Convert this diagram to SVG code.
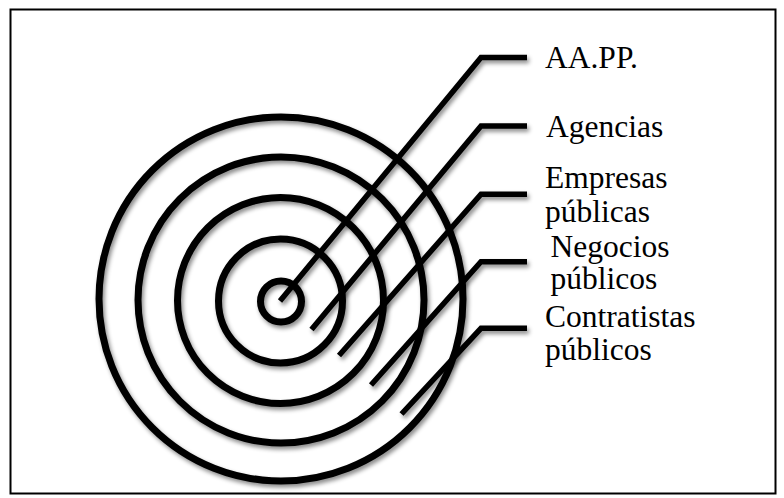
<svg xmlns="http://www.w3.org/2000/svg" width="784" height="498" viewBox="0 0 784 498">
  <defs>
    <filter id="shade" x="-10%" y="-10%" width="120%" height="120%">
      <feDropShadow dx="2" dy="3" stdDeviation="2" flood-color="#000" flood-opacity="0.45"/>
    </filter>
    <style>
      .ring { fill: none; stroke: #000; stroke-width: 7; }
      .lead { fill: none; stroke: #000; stroke-width: 5.5; stroke-linejoin: miter; stroke-linecap: butt; }
      .lbl { font-family: "Liberation Serif", "Times New Roman", serif; font-size: 31.5px; fill: #000; }
    </style>
  </defs>

  <rect x="10.5" y="9.5" width="765" height="484" fill="#fff" stroke="#000" stroke-width="2"/>

  <!-- concentric rings -->
  <g id="rings" filter="url(#shade)">
    <g id="ring-contratistas"><circle class="ring" cx="281" cy="299" r="182"/></g>
    <g id="ring-negocios"><circle class="ring" cx="281" cy="300" r="143"/></g>
    <g id="ring-empresas"><circle class="ring" cx="280.5" cy="300.5" r="103"/></g>
    <g id="ring-agencias"><circle class="ring" cx="280.5" cy="301" r="62"/></g>
    <g id="ring-aapp"><circle class="ring" cx="281" cy="301.5" r="20.5"/></g>
  </g>

  <!-- leader lines -->
  <g id="connectors" filter="url(#shade)">
    <polyline class="lead" points="280,301 481,57.5 527,57.5"/>
    <polyline class="lead" points="311.5,329.5 481,126 527,126"/>
    <polyline class="lead" points="339,355.5 481,194.3 527,194.3"/>
    <polyline class="lead" points="371,385 481,261.7 527,261.7"/>
    <polyline class="lead" points="401.5,414 481,328.3 527,328.3"/>
  </g>

  <!-- labels -->
  <g id="label-aapp"><text class="lbl" x="545" y="68.3">AA.PP.</text></g>
  <g id="label-agencias"><text class="lbl" x="546" y="136.7">Agencias</text></g>
  <g id="label-empresas">
    <text class="lbl" x="545" y="188.3">Empresas</text>
    <text class="lbl" x="545" y="221.7">públicas</text>
  </g>
  <g id="label-negocios">
    <text class="lbl" x="550.5" y="256.7">Negocios</text>
    <text class="lbl" x="550.5" y="289.3">públicos</text>
  </g>
  <g id="label-contratistas">
    <text class="lbl" x="545" y="326.7">Contratistas</text>
    <text class="lbl" x="545" y="360">públicos</text>
  </g>
</svg>
